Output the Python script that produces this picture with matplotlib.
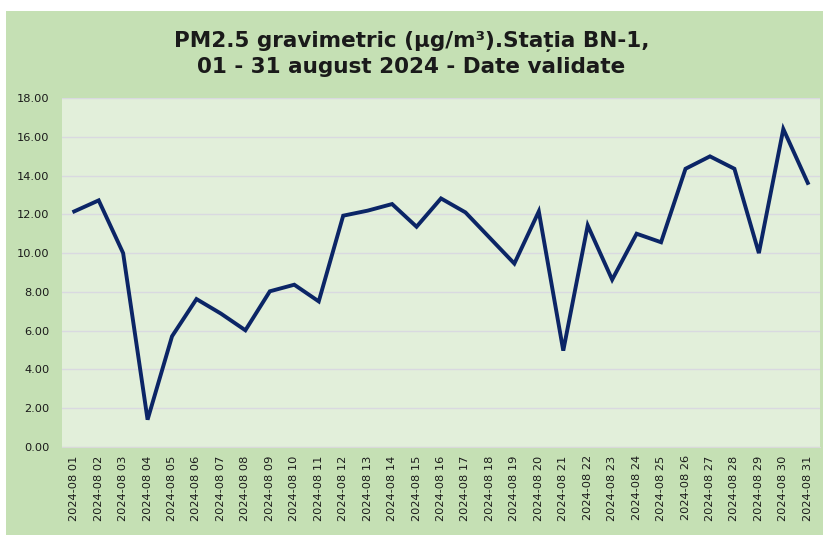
import matplotlib
matplotlib.use("Agg")
import matplotlib.pyplot as plt
from matplotlib.patches import Rectangle
import numpy as np

days = ["2024-08 %02d" % d for d in range(1, 32)]
pm25 = [12.15, 12.72, 10.00, 1.41, 5.71, 7.63, 6.88, 6.02, 8.03, 8.37,
        7.51, 11.93, 12.19, 12.53, 11.36, 12.82, 12.10, 10.78, 9.46, 12.15,
        4.97, 11.43, 8.63, 11.00, 10.56, 14.35, 14.99, 14.35, 10.00, 16.40,
        13.62]
yticks = np.arange(0, 18.01, 2)

fig = plt.figure(figsize=(8.23, 5.39), dpi=100)
fig.patch.set_facecolor("white")
bg = Rectangle((6 / 823, 4 / 539), 1 - 6 / 823, 1 - 15 / 539,
               transform=fig.transFigure, facecolor="#c5e0b4",
               edgecolor="none", zorder=-10)
fig.patches.append(bg)

ax = fig.add_axes([62 / 823, 1 - 447 / 539, 758 / 823, 349 / 539])
ax.set_zorder(5)
ax.set_facecolor("#e2efda")
x = np.arange(len(days))
ax.plot(x, pm25, color="#0b2566", lw=2.8, solid_joinstyle="miter", zorder=3)

ax.set_xlim(-0.5, len(days) - 0.5)
ax.set_ylim(0, 18)
ax.set_yticks(yticks)
ax.set_yticklabels(["%.2f" % v for v in yticks])
ax.set_xticks(x)
ax.set_xticklabels(days, rotation=90)
ax.yaxis.grid(True, color="#d9d9e0", lw=1)
ax.set_axisbelow(True)
for s in ax.spines.values():
    s.set_visible(False)
ax.spines["bottom"].set_visible(True)
ax.spines["bottom"].set_color("#d9d9d9")
ax.tick_params(length=0, labelsize=8.2, colors="#1a1a1a")
ax.tick_params(axis="y", pad=9)
ax.tick_params(axis="x", pad=6)

fig.text(0.5, 0.9, "PM2.5 gravimetric (\u00b5g/m\u00b3).Sta\u021bia BN-1,\n01 - 31 august 2024 - Date validate",
         ha="center", va="center", fontsize=15.5, fontweight="bold",
         color="#1a1a1a", family=["DejaVu Sans"], linespacing=1.35, zorder=6)

fig.savefig("out.png", dpi=100)
